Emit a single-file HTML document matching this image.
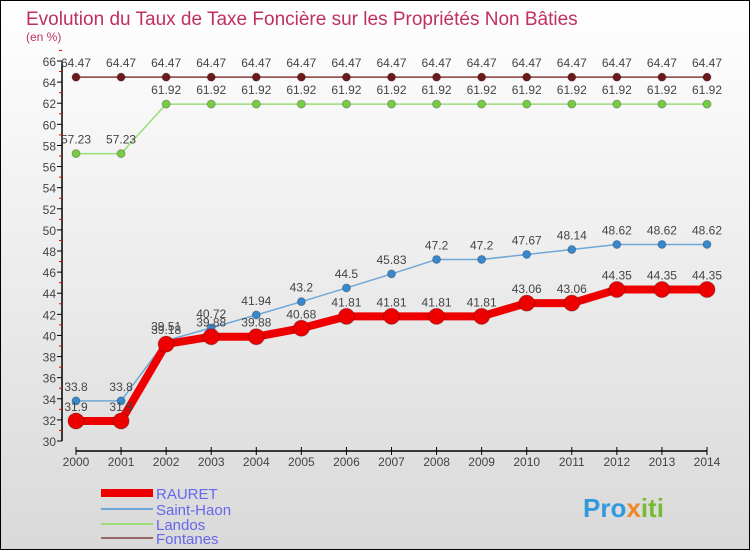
<!DOCTYPE html>
<html><head><meta charset="utf-8"><style>
body{margin:0;width:750px;height:550px;overflow:hidden;font-family:"Liberation Sans",sans-serif}
#wrap{position:relative;width:748px;height:548px;border:1px solid #000;background:linear-gradient(#ffffff,#d9d9d9)}
</style></head><body>
<div id="wrap">
<svg id="chart" width="748" height="548" style="position:absolute;left:0;top:0">
<text x="25" y="24" font-size="19" fill="#c0305e">Evolution du Taux de Taxe Foncière sur les Propriétés Non Bâties</text>
<text x="25" y="40" font-size="12" fill="#c0305e">(en %)</text>
<g id="axes"></g><g id="series"></g>
<g>
<line x1="100" y1="492" x2="152" y2="492" stroke="#e00" stroke-width="8"/>
<text x="155" y="498" font-size="15" fill="#6666ee">RAURET</text>
<line x1="100" y1="508" x2="152" y2="508" stroke="#6fa8d8" stroke-width="2"/>
<text x="155" y="514" font-size="15" fill="#6666ee">Saint-Haon</text>
<line x1="100" y1="523" x2="152" y2="523" stroke="#99dd77" stroke-width="2"/>
<text x="155" y="529" font-size="15" fill="#6666ee">Landos</text>
<line x1="100" y1="537" x2="152" y2="537" stroke="#996666" stroke-width="2"/>
<text x="155" y="543" font-size="15" fill="#6666ee">Fontanes</text>
</g>
<text x="582" y="516" font-size="26" font-weight="bold" fill="#3399dd">Pro<tspan fill="#ee8822">x</tspan><tspan fill="#77bb33">iti</tspan></text>
</svg>
</div>
<script>
const years=["2000","2001","2002","2003","2004","2005","2006","2007","2008","2009","2010","2011","2012","2013","2014"];
const rauret=[31.9,31.9,39.18,39.88,39.88,40.68,41.81,41.81,41.81,41.81,43.06,43.06,44.35,44.35,44.35];
const saintHaon=[33.8,33.8,39.51,40.72,41.94,43.2,44.5,45.83,47.2,47.2,47.67,48.14,48.62,48.62,48.62];
const landos=[57.23,57.23,61.92,61.92,61.92,61.92,61.92,61.92,61.92,61.92,61.92,61.92,61.92,61.92,61.92];
const fontanes=[64.47,64.47,64.47,64.47,64.47,64.47,64.47,64.47,64.47,64.47,64.47,64.47,64.47,64.47,64.47];
const yTicks=[30,32,34,36,38,40,42,44,46,48,50,52,54,56,58,60,62,64,66];
const NS="http://www.w3.org/2000/svg";
const X=i=>75+i*(706-75)/(years.length-1);
const Y=v=>440-(v-30)*(380/36);
function mk(t,a,p){const e=document.createElementNS(NS,t);for(const k in a)e.setAttribute(k,a[k]);p.appendChild(e);return e;}
const ax=document.getElementById('axes');
let l=mk('line',{x1:61,y1:Y(66),x2:61,y2:Y(30),stroke:'#000','stroke-width':1.5},ax);


yTicks.forEach(v=>{
 mk('line',{x1:56,y1:Y(v),x2:61,y2:Y(v),stroke:'#000'},ax);
 mk('line',{x1:58,y1:Y(v+1),x2:61,y2:Y(v+1),stroke:'#e00'},ax);
 const t=mk('text',{x:55,y:Y(v)+5,'font-size':12,fill:'#444','text-anchor':'end'},ax);t.textContent=v;
 
 
});
l=mk('line',{x1:X(0),y1:450,x2:X(years.length-1),y2:450,stroke:'#000','stroke-width':1.5},ax);


years.forEach((y,i)=>{
 mk('line',{x1:X(i),y1:446,x2:X(i),y2:454,stroke:'#000'},ax);
 const t=mk('text',{x:X(i),y:465,'font-size':12,fill:'#444','text-anchor':'middle'},ax);t.textContent=y;
 
 
});
const sg=document.getElementById('series');
function draw(data,name,color,w,r,dot){
 const g=mk('g',{},sg);
 
 
 const p=mk('polyline',{points:data.map((v,i)=>X(i)+','+Y(v)).join(' '),fill:'none',stroke:color,'stroke-width':w,'stroke-linejoin':'round'},g);
 
 
 data.forEach((v,i)=>{
  const c=mk('circle',{cx:X(i),cy:Y(v),r:r,fill:dot,stroke:'rgba(0,0,0,0.25)'},g);
  
  
  const t=mk('text',{x:X(i),y:Y(v)-10,'font-size':12,fill:'#444','text-anchor':'middle'},g);t.textContent=v;
  
  
 });
}
draw(fontanes,'fontanes','#8b3a3a',1.5,4,'#6b1a1a');
draw(landos,'landos','#99dd77',1.5,4,'#77cc44');
draw(saintHaon,'saint-haon','#6fa8d8',1.5,4,'#3a88cc');
draw(rauret,'rauret','#ee0000',8,8,'#ee0000');
</script>
</body></html>
